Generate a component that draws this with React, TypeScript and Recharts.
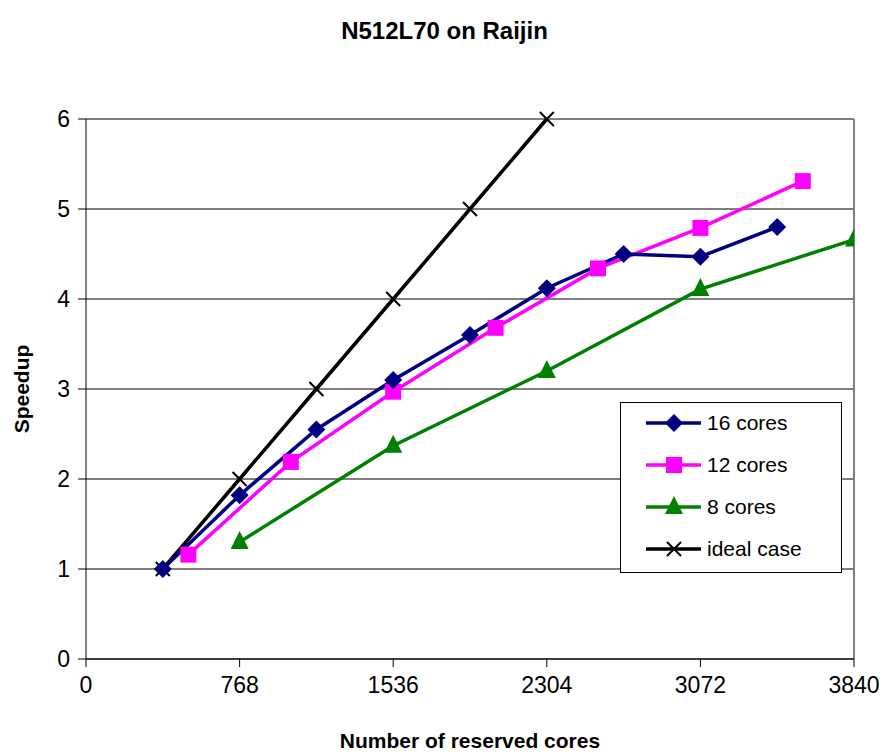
import React from 'react';
import { LineChart, Line, XAxis, YAxis, CartesianGrid, ReferenceLine, Label } from 'recharts';

const xTicks = [0, 768, 1536, 2304, 3072, 3840];
const yTicks = [0, 1, 2, 3, 4, 5, 6];

const cores16X = [384, 768, 1152, 1536, 1920, 2304, 2688, 3072, 3456];
const cores16Y = [1.0, 1.82, 2.55, 3.1, 3.6, 4.12, 4.5, 4.47, 4.8];
const cores12X = [512, 1024, 1536, 2048, 2560, 3072, 3584];
const cores12Y = [1.16, 2.19, 2.97, 3.68, 4.34, 4.79, 5.31];
const cores8X = [768, 1536, 2304, 3072, 3840];
const cores8Y = [1.3, 2.37, 3.2, 4.11, 4.66];
const idealX = [384, 768, 1152, 1536, 1920, 2304];
const idealY = [1, 2, 3, 4, 5, 6];

const zip = (xs: number[], ys: number[]) => xs.map((x, i) => ({ x, y: ys[i] }));
const d16 = zip(cores16X, cores16Y);
const d12 = zip(cores12X, cores12Y);
const d8 = zip(cores8X, cores8Y);
const dIdeal = zip(idealX, idealY);

const FONT = '"Liberation Sans", Arial, sans-serif';

const Diamond = (cx: number, cy: number, key?: any) => (
  <path key={key} d={`M${cx},${cy - 9} L${cx + 9},${cy} L${cx},${cy + 9} L${cx - 9},${cy} Z`} fill="#000080" />
);
const Square = (cx: number, cy: number, key?: any) => (
  <rect key={key} x={cx - 8} y={cy - 8} width={16} height={16} fill="#FF00FF" />
);
const Triangle = (cx: number, cy: number, key?: any) => (
  <path key={key} d={`M${cx},${cy - 11} L${cx + 9},${cy + 7} L${cx - 9},${cy + 7} Z`} fill="#008000" />
);
const Cross = (cx: number, cy: number, key?: any) => (
  <path key={key} d={`M${cx - 7},${cy - 7} L${cx + 7},${cy + 7} M${cx + 7},${cy - 7} L${cx - 7},${cy + 7}`} stroke="#000" strokeWidth={2} fill="none" />
);

const mkDot = (fn: any) => (p: any) => fn(p.cx, p.cy, p.key ?? `${p.cx}-${p.cy}`);

const legendItems = [
  { label: '16 cores', color: '#000080', m: Diamond },
  { label: '12 cores', color: '#FF00FF', m: Square },
  { label: '8 cores', color: '#008000', m: Triangle },
  { label: 'ideal case', color: '#000000', m: Cross },
];

const LegendBox = () => (
  <div
    style={{
      position: 'absolute',
      left: 612,
      top: 394,
      width: 222,
      height: 171,
      border: '1px solid #000',
      background: '#fff',
      boxSizing: 'border-box',
      fontFamily: FONT,
      fontSize: 21,
    }}
  >
    {legendItems.map((it, i) => (
      <div key={i} style={{ position: 'absolute', left: 0, top: 6 + i * 42, height: 28, display: 'flex', alignItems: 'center' }}>
        <svg width={90} height={28} style={{ display: 'block' }}>
          <line x1={25} y1={14} x2={80} y2={14} stroke={it.color} strokeWidth={3.5} />
          {it.m(53, 14)}
        </svg>
        <span style={{ marginLeft: -4, color: '#000', whiteSpace: 'nowrap' }}>{it.label}</span>
      </div>
    ))}
  </div>
);

export default function App() {
  return (
    <div style={{ position: 'relative', width: 879, height: 748, background: '#fff' }}>
      <div
        style={{
          position: 'absolute',
          top: 9,
          left: 0,
          width: 879,
          textAlign: 'center',
          fontFamily: FONT,
          fontWeight: 'bold',
          fontSize: 24,
        }}
      >
        <span style={{ marginLeft: -6 }}>N512L70 on Raijin</span>
      </div>
      <LineChart width={879} height={748} margin={{ top: 111, right: 33, bottom: 67, left: 38 }}>
        <CartesianGrid vertical={false} stroke="#000" strokeWidth={1} />
        <XAxis
          type="number"
          dataKey="x"
          domain={[0, 3840]}
          ticks={xTicks}
          allowDataOverflow
          stroke="#000"
          tickSize={8}
          tick={{ fill: '#000', fontSize: 23, fontFamily: FONT }}
          tickMargin={10}
        >
          <Label
            value="Number of reserved cores"
            position="bottom"
            offset={44}
            style={{ fontFamily: FONT, fontWeight: 'bold', fontSize: 21, fill: '#000' }}
          />
        </XAxis>
        <YAxis
          type="number"
          dataKey="y"
          domain={[0, 6]}
          ticks={yTicks}
          width={40}
          stroke="#000"
          tickSize={8}
          tick={{ fill: '#000', fontSize: 23, fontFamily: FONT }}
          tickMargin={8}
        >
          <Label
            value="Speedup"
            angle={-90}
            position="left"
            offset={24}
            style={{ fontFamily: FONT, fontWeight: 'bold', fontSize: 21, fill: '#000', textAnchor: 'middle' }}
          />
        </YAxis>
        <ReferenceLine x={3840} stroke="#808080" strokeWidth={2} />
        <Line data={dIdeal} dataKey="y" stroke="#000" strokeWidth={3.5} dot={mkDot(Cross)} isAnimationActive={false} name="ideal case" />
        <Line data={d8} dataKey="y" stroke="#008000" strokeWidth={3.5} dot={mkDot(Triangle)} isAnimationActive={false} name="8 cores" />
        <Line data={d12} dataKey="y" stroke="#FF00FF" strokeWidth={3.5} dot={mkDot(Square)} isAnimationActive={false} name="12 cores" />
        <Line data={d16} dataKey="y" stroke="#000080" strokeWidth={3.5} dot={mkDot(Diamond)} isAnimationActive={false} name="16 cores" />
      </LineChart>
      <LegendBox />
    </div>
  );
}
